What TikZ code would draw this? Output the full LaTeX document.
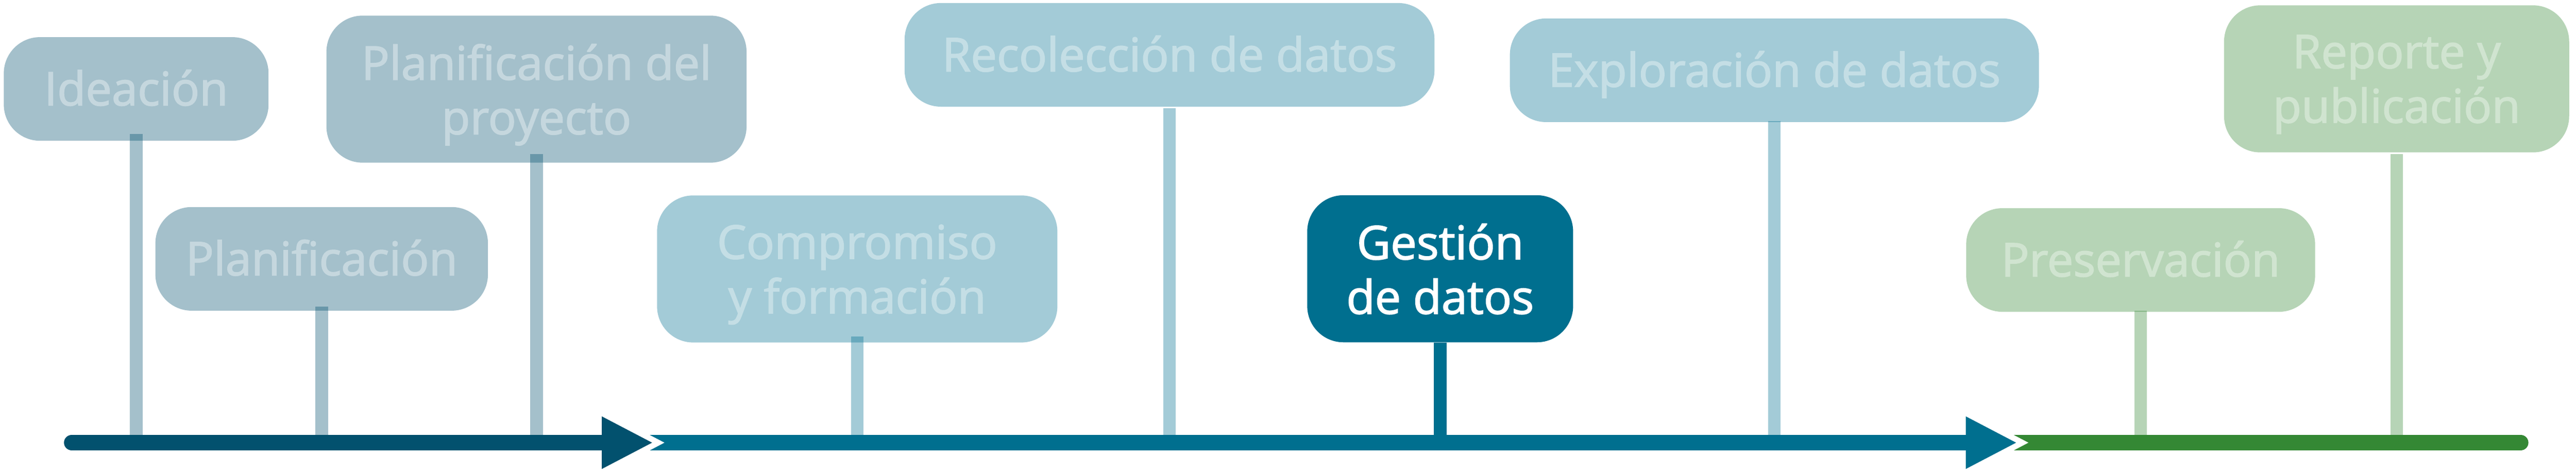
\documentclass[tikz,border=0pt]{standalone}
\usepackage{fontspec}
\setmainfont{Open Sans}[UprightFeatures={FakeBold=2}]
\definecolor{pastblue}{RGB}{2,81,110}
\definecolor{datateal}{RGB}{0,111,143}
\definecolor{closegreen}{RGB}{52,136,52}

\begin{document}
\begin{tikzpicture}[
        stagenode/.style={rounded corners=0.95cm, inner sep=0pt, align=center, minimum height=2.72cm,
            text depth=0.2em, font=\fontsize{34.7}{40.7}\selectfont},
        tallnode/.style={minimum height=3.86cm, text depth=0pt},
        pastnode/.style={stagenode, fill=pastblue!36, text=pastblue!23},
        datanode/.style={stagenode, fill=datateal!36, text=datateal!23},
        closenode/.style={stagenode, fill=closegreen!36, text=closegreen!23},
        stemline/.style={line width=0.33cm, draw opacity=0.36},
        axisline/.style={line width=0.41cm}]
        \useasboundingbox (0,0) rectangle (67.63,12.38);
        \node[pastnode, minimum width=6.95cm] (ideacion) at (3.575,10.045) {Ideación};
        \node[pastnode, minimum width=8.73cm] (planif) at (8.445,5.585) {Planificación};
        \node[pastnode, tallnode, minimum width=11.03cm] (planproy) at (14.085,10.04) {Planificación del\\proyecto};
        \node[datanode, tallnode, minimum width=10.51cm] (compromiso) at (22.505,5.32) {Compromiso\\y formación};
        \node[datanode, minimum width=13.91cm] (recoleccion) at (30.705,10.94) {Recolección de datos};
        \node[stagenode, tallnode, fill=datateal, text=white, minimum width=6.98cm] (gestion) at (37.81,5.325) {Gestión\\de datos};
        \node[datanode, minimum width=13.89cm] (exploracion) at (46.585,10.535) {Exploración de datos};
        \node[closenode, minimum width=9.16cm] (preservacion) at (56.20,5.555) {Preservación};
        \node[closenode, tallnode, minimum width=9.06cm] (reporte) at (62.92,10.31) {Reporte y\\publicación};

        \coordinate (paststart) at (1.885,0.76);
        \coordinate (pasttip) at (17.12,0.76);
        \coordinate (datastart) at (16.9,0.76);
        \coordinate (datatip) at (52.93,0.76);
        \coordinate (closestart) at (52.7,0.76);
        \coordinate (closeend) at (66.175,0.76);

        \draw[stemline, pastblue] ([yshift=0.19cm]ideacion.south) -- (ideacion.south |- paststart);
        \draw[stemline, pastblue] ([yshift=0.12cm]planif.south) -- (planif.south |- paststart);
        \draw[stemline, pastblue] ([yshift=0.23cm]planproy.south) -- (planproy.south |- paststart);
        \draw[stemline, datateal] ([yshift=0.17cm]compromiso.south) -- (compromiso.south |- paststart);
        \draw[stemline, datateal] ([yshift=-0.04cm]recoleccion.south) -- (recoleccion.south |- paststart);
        \draw[stemline, draw opacity=1, datateal] (gestion.south) -- (gestion.south |- paststart);
        \draw[stemline, datateal] ([yshift=0.04cm]exploracion.south) -- (exploracion.south |- paststart);
        \draw[stemline, closegreen] ([yshift=0.04cm]preservacion.south) -- (preservacion.south |- paststart);
        \draw[stemline, closegreen] ([yshift=-0.04cm]reporte.south) -- (reporte.south |- paststart);

        \draw[axisline, line cap=round, pastblue] (paststart) -- ([xshift=-1.32cm]pasttip);
        \draw[axisline, datateal] (datastart) -- ([xshift=-1.32cm]datatip);
        \draw[axisline, line cap=round, closegreen] (closestart) -- (closeend);

        \draw[white, line width=0.3cm, line join=miter] ([shift={(-1.32,0.69)}]pasttip) -- (pasttip) -- ([shift={(-1.32,-0.69)}]pasttip);
        \fill[pastblue] ([shift={(-1.32,0.69)}]pasttip) -- (pasttip) -- ([shift={(-1.32,-0.69)}]pasttip) -- cycle;
        \draw[white, line width=0.3cm, line join=miter] ([shift={(-1.32,0.69)}]datatip) -- (datatip) -- ([shift={(-1.32,-0.69)}]datatip);
        \fill[datateal] ([shift={(-1.32,0.69)}]datatip) -- (datatip) -- ([shift={(-1.32,-0.69)}]datatip) -- cycle;
\end{tikzpicture}
\end{document}
